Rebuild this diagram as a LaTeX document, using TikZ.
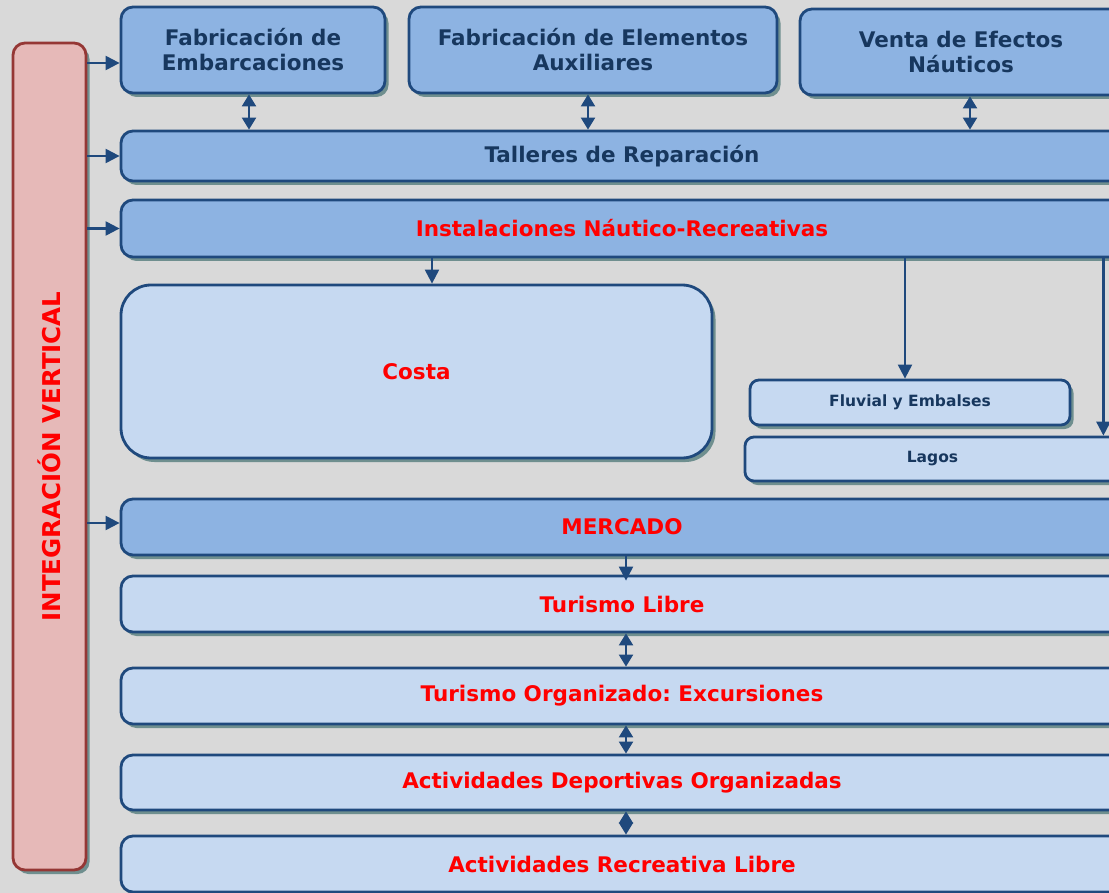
\documentclass[tikz,border=0pt]{standalone}
\usepackage{fontspec}
\setmainfont{DejaVu Sans}
\usetikzlibrary{arrows.meta,shadows}
\definecolor{fondo}{HTML}{D9D9D9}
\definecolor{oscuro}{HTML}{8DB3E2}
\definecolor{claro}{HTML}{C6D9F1}
\definecolor{borde}{HTML}{1F497D}
\definecolor{azultxt}{HTML}{17375E}
\definecolor{rojo}{HTML}{FF0000}
\definecolor{rosa}{HTML}{E6B9B8}
\definecolor{granate}{HTML}{953735}
\definecolor{sombra}{HTML}{6F8F8F}
\frenchspacing

\begin{document}
\begin{tikzpicture}[x=1pt,y=-1pt,
  caja/.style={draw=borde,line width=2.8pt,rounded corners=12pt,fill=oscuro,
    inner sep=0pt,align=center,text=azultxt,
    font=\bfseries\fontsize{21.5}{25}\selectfont,
    drop shadow={shadow xshift=3.5pt,shadow yshift=-4pt,fill=sombra,opacity=1}},
  rojocaja/.style={caja,text=rojo},
  clara/.style={caja,fill=claro,text=rojo},
  chica/.style={caja,fill=claro,rounded corners=9pt,
    font=\bfseries\fontsize{15.5}{18}\selectfont},
  flecha/.style={draw=borde,line width=2.2pt,-{Triangle[length=14pt,width=14pt]}},
  doble/.style={draw=borde,line width=2.2pt,
    {Triangle[length=12pt,width=14pt]}-{Triangle[length=12pt,width=14pt]}}]
\clip (0,0) rectangle (1109,893);
\fill[fondo] (0,0) rectangle (1109,893);

% columna izquierda
\node[caja,fill=rosa,draw=granate,text=rojo,rotate=90,
  font=\bfseries\fontsize{24.5}{28}\selectfont,
  minimum width=827pt,minimum height=73pt] (iv) at (49.5,456.5) {INTEGRACIÓN VERTICAL};

% fila superior
\node[caja,minimum width=264pt,minimum height=86pt] (fe) at (253,50) {Fabricación de\\Embarcaciones};
\node[caja,minimum width=368pt,minimum height=86pt] (fa) at (593,50) {Fabricación de Elementos\\Auxiliares};
\node[caja,minimum width=322pt,minimum height=86pt] (ve) at (961,52) {Venta de Efectos\\Náuticos};
\node[caja,minimum width=1002pt,minimum height=50pt] (ta) at (622,156) {Talleres de Reparación};
\node[rojocaja,minimum width=1002pt,minimum height=57pt] (in) at (622,228.5) {Instalaciones Náutico-Recreativas};

% instalaciones
\node[clara,rounded corners=30pt,minimum width=591pt,minimum height=173pt] (co) at (416.5,371.5) {Costa};
\node[chica,minimum width=320pt,minimum height=45pt] (fl) at (910,402.5) {Fluvial y Embalses};
\node[chica,minimum width=375pt,minimum height=44pt] (la) at (932.5,459) {Lagos};

% mercado
\node[rojocaja,minimum width=1002pt,minimum height=56pt] (me) at (622,527) {MERCADO};
\node[clara,minimum width=1002pt,minimum height=56pt] (tl) at (622,604) {Turismo Libre};
\node[clara,minimum width=1002pt,minimum height=56pt] (to) at (622,696) {Turismo Organizado: Excursiones};
\node[clara,minimum width=1002pt,minimum height=55pt] (ad) at (622,782.5) {Actividades Deportivas Organizadas};
\node[clara,minimum width=1002pt,minimum height=56pt] (ar) at (622,864) {Actividades Recreativa Libre};

% flechas
\coordinate (fw) at ([yshift=-13pt]fe.west);
\draw[flecha] (fw -| iv.south) -- (fw);
\draw[flecha] (ta.west -| iv.south) -- (ta.west);
\draw[flecha] (in.west -| iv.south) -- (in.west);
\draw[flecha] ([yshift=4pt]me.west -| iv.south) -- ([yshift=4pt]me.west);

\coordinate (f1) at ([xshift=-4pt]fe.south);
\coordinate (f2) at ([xshift=-5pt]fa.south);
\coordinate (f3) at ([xshift=9pt]ve.south);
\draw[doble] (f1) -- (f1 |- ta.north);
\draw[doble] (f2) -- (f2 |- ta.north);
\draw[doble] (f3) -- (f3 |- ta.north);

\coordinate (c1) at ([xshift=15.5pt]co.north);
\coordinate (c2) at ([xshift=-5pt]fl.north);
\coordinate (c3) at ([xshift=-18pt]la.north east);
\draw[flecha] (c1 |- in.south) -- (c1);
\draw[flecha] (c2 |- in.south) -- (c2);
\draw[flecha] (c3 |- in.south) -- (c3);

\coordinate (m1) at ([xshift=4pt]me.south);
\draw[flecha] (m1) -- ([yshift=-6pt]m1 |- tl.north);
\draw[doble] (m1 |- tl.south) -- (m1 |- to.north);
\draw[doble] (m1 |- to.south) -- (m1 |- ad.north);
\draw[doble] (m1 |- ad.south) -- (m1 |- ar.north);
\end{tikzpicture}
\end{document}
